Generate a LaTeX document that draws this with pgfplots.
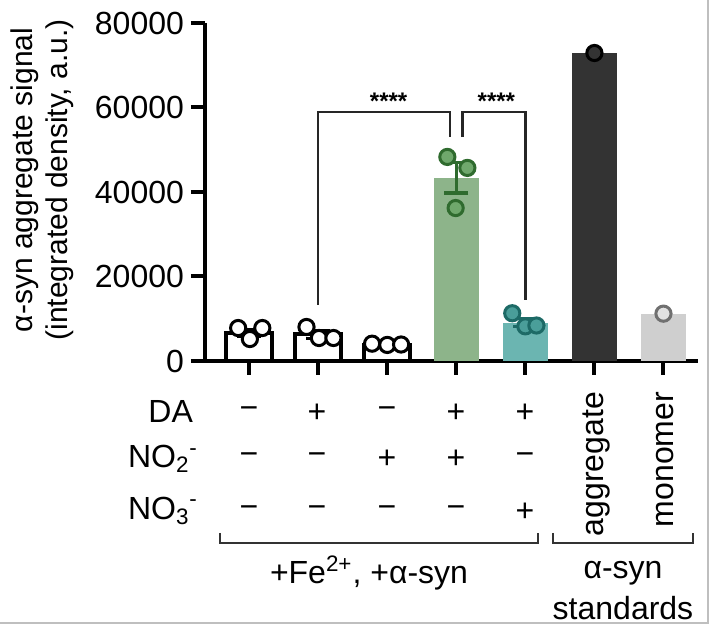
\documentclass[border=0pt]{standalone}
\usepackage{fontspec}
\setmainfont{Liberation Sans}
\usepackage{pgfplots}
\pgfplotsset{compat=1.18}
\definecolor{gbar}{HTML}{8DB48A}
\definecolor{gdot}{HTML}{6FA86C}
\definecolor{gedge}{HTML}{2F6B2E}
\definecolor{tbar}{HTML}{6BB5B1}
\definecolor{tdot}{HTML}{4A9E99}
\definecolor{tedge}{HTML}{1D6A66}
\definecolor{abar}{HTML}{333333}
\definecolor{mbar}{HTML}{CFCFCF}
\definecolor{medge}{HTML}{707070}
\newcommand\F{\fontsize{15}{17.5}\selectfont}
\newcommand\G{\fontsize{16}{19}\selectfont}
\begin{document}
\begin{tikzpicture}[x=0.5pt,y=0.5pt]
\useasboundingbox (0,0) rectangle (714,625);
\begin{axis}[
  at={(102.5pt,132pt)}, anchor=south west, scale only axis,
  width=246.5pt, height=169pt,
  xmin=-0.64, xmax=6.5, ymin=0, ymax=80000,
  axis x line*=bottom, axis y line*=left,
  axis line style={line width=2pt,-},
  xtick={0,1,2,3,4,5,6}, xticklabels={},
  ytick={0,20000,40000,60000,80000},
  scaled y ticks=false,
  yticklabel style={/pgf/number format/.cd, fixed, 1000 sep={}, assume math mode=true},
  tick label style={font=\G},
  tick align=outside, major tick length=7pt,
  tick style={line width=2pt, black},
  clip=false,
]
% bars
\addplot[ybar, bar shift=0pt, bar width=0.66, fill=white, draw=black, line width=2pt] coordinates {(0,6700) (1,6300) (2,3900)};
\addplot[ybar, bar shift=0pt, bar width=0.66, fill=gbar, draw=none] coordinates {(3,43400)};
\addplot[ybar, bar shift=0pt, bar width=0.66, fill=tbar, draw=none] coordinates {(4,9100)};
\addplot[ybar, bar shift=0pt, bar width=0.66, fill=abar, draw=none] coordinates {(5,72900)};
\addplot[ybar, bar shift=0pt, bar width=0.66, fill=mbar, draw=none] coordinates {(6,11200)};
% error bars (white bars)
\addplot[draw=none, mark=none, error bars/.cd, y dir=both, y explicit,
  error bar style={line width=1.5pt, draw=black},
  error mark options={rotate=90, mark size=6pt, line width=1.5pt, draw=black}]
  coordinates {(0,6700) +- (0,800) (1,6300) +- (0,870) (2,3900) +- (0,120)};
% individual points
\addplot[only marks, mark=*, mark size=3.8pt, mark options={fill=white, draw=black, line width=1.5pt}]
  coordinates {(-0.16,7800) (0.19,7800) (0.01,5200)};
\addplot[only marks, mark=*, mark size=3.8pt, mark options={fill=white, draw=black, line width=1.5pt}]
  coordinates {(0.83,8050) (1.01,5440) (1.22,5440)};
\addplot[only marks, mark=*, mark size=3.8pt, mark options={fill=white, draw=black, line width=1.5pt}]
  coordinates {(1.78,4100) (2.0,3800) (2.2,3900)};
\addplot[only marks, mark=*, mark size=3.8pt, mark options={fill=gdot, draw=gedge, line width=1.5pt}]
  coordinates {(2.87,48300) (3.16,45700) (2.99,36200)};
\addplot[draw=none, mark=none, error bars/.cd, y dir=both, y explicit,
  error bar style={line width=1.8pt, draw=gedge},
  error mark options={rotate=90, mark size=6pt, line width=1.8pt, draw=gedge}]
  coordinates {(3,43400) +- (0,3600)};
\addplot[only marks, mark=*, mark size=3.8pt, mark options={fill=tdot, draw=tedge, line width=1.5pt}]
  coordinates {(3.81,11300) (4.0,8200) (4.16,8400)};
\addplot[draw=none, mark=none, error bars/.cd, y dir=both, y explicit,
  error bar style={line width=1.5pt, draw=tedge},
  error mark options={rotate=90, mark size=6pt, line width=1.5pt, draw=tedge}]
  coordinates {(4,9100) +- (0,900)};
\addplot[only marks, mark=*, mark size=3.8pt, mark options={fill=abar, draw=black, line width=1.5pt}]
  coordinates {(5,72900)};
\addplot[only marks, mark=*, mark size=3.8pt, mark options={fill=mbar!60!white, draw=medge, line width=1.5pt}]
  coordinates {(6,11200)};
% significance brackets
\draw[line width=1.2pt, black!85] (axis cs:1,13300) |- (axis cs:2.91,58900) -- (axis cs:2.91,53000);
\draw[line width=1.2pt, black!85] (axis cs:3.09,53000) |- (axis cs:4,58900) -- (axis cs:4,14400);
\node[font=\fontsize{12}{14}\selectfont\bfseries] at (axis cs:2.02,61500) {****};
\node[font=\fontsize{12}{14}\selectfont\bfseries] at (axis cs:3.58,61500) {****};
\end{axis}
% y label
\node[rotate=90, align=center, font=\F] at (42,445) {α-syn aggregate signal\\(integrated density, a.u.)};
% table
\begin{scope}[every node/.append style={font=\G}]
\node[anchor=east] at (200,213) {DA};
\node[anchor=east] at (205,166) {NO\textsubscript{2}\textsuperscript{-}};
\node[anchor=east] at (205,114) {NO\textsubscript{3}\textsuperscript{-}};
\foreach \x/\s in {249/−,317/+,387/−,456/+,525/+} \node at (\x,212) {\s};
\foreach \x/\s in {249/−,317/−,387/+,456/+,525/−} \node at (\x,166) {\s};
\foreach \x/\s in {249/−,317/−,387/−,456/−,525/+} \node at (\x,113) {\s};
\node[rotate=90, anchor=east] at (596,240) {aggregate};
\node[rotate=90, anchor=east] at (665,240) {monomer};
\draw[line width=1pt, black!80] (220,92) -- (220,82) -- (538,82) -- (538,92);
\draw[line width=1pt, black!80] (553,92) -- (553,82) -- (693,82) -- (693,92);
\node at (369,52) {+Fe\textsuperscript{2+}, +α-syn};
\node at (623,52) {α-syn};
\node at (623,17) {standards};
\end{scope}
\draw[black!25, line width=0.8pt] (708,625) -- (708,2) -- (0,2);
\end{tikzpicture}
\end{document}
